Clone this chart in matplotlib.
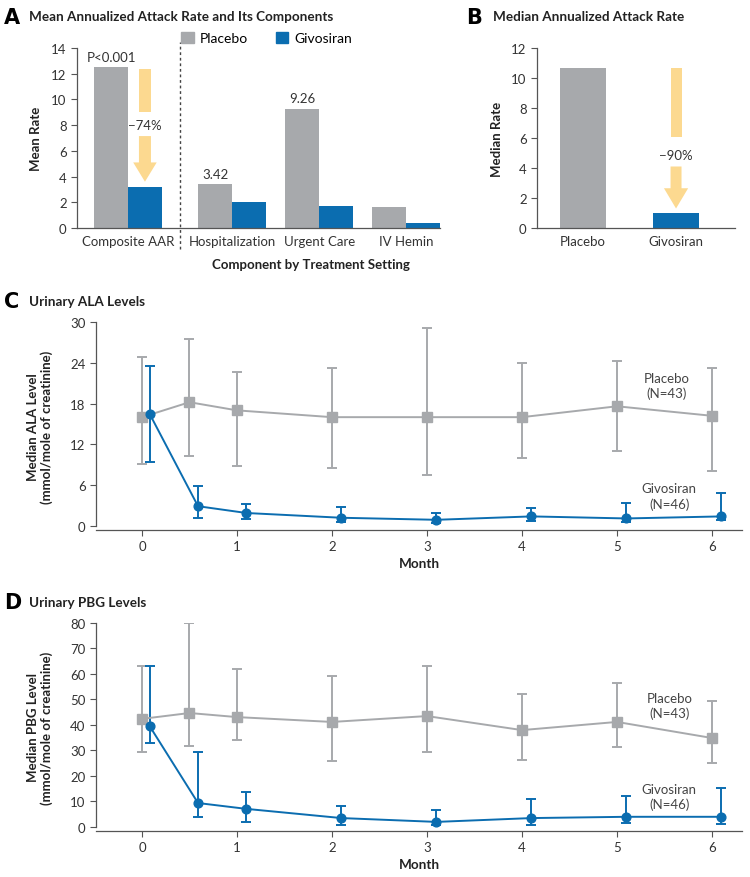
import numpy as np
import matplotlib.pyplot as plt
from matplotlib.patches import Rectangle, FancyArrow, Patch

plt.rcParams['font.family'] = ['Lato', 'DejaVu Sans']

GRAY = '#a7a9ac'
BLUE = '#0b6db0'
ARROW = '#fcd990'
TXT = '#333333'
SPINE = '#555555'

# panel A - mean annualized attack rate
components = ['Composite AAR', 'Hospitalization', 'Urgent Care', 'IV Hemin']
mean_placebo = [12.5, 3.42, 9.26, 1.6]
mean_givosiran = [3.2, 2.0, 1.7, 0.4]

# panel B - median annualized attack rate
groups_b = ['Placebo', 'Givosiran']
median_rate = [10.7, 1.0]

# panels C and D - visit times (months)
months_pla = [0, 0.5, 1, 2, 3, 4, 5, 6]
months_giv = [0.08, 0.59, 1.1, 2.1, 3.1, 4.1, 5.1, 6.1]

# urinary ALA
ala_pla = [16.0, 18.2, 17.0, 16.0, 16.0, 16.0, 17.6, 16.2]
ala_pla_hi = [24.8, 27.5, 22.6, 23.2, 29.1, 24.0, 24.3, 23.2]
ala_pla_lo = [9.1, 10.3, 8.8, 8.5, 7.5, 10.0, 11.0, 8.1]
ala_giv = [16.5, 2.9, 1.9, 1.2, 0.9, 1.4, 1.1, 1.4]
ala_giv_hi = [23.5, 5.8, 3.2, 2.8, 1.9, 2.6, 3.4, 4.8]
ala_giv_lo = [9.4, 1.2, 1.0, 0.6, 0.5, 0.7, 0.6, 0.8]

# urinary PBG
pbg_pla = [42.4, 44.7, 43.1, 41.2, 43.5, 38.0, 41.2, 34.9]
pbg_pla_hi = [63.2, 80.0, 62.0, 59.3, 63.2, 52.2, 56.5, 49.4]
pbg_pla_lo = [29.4, 31.8, 34.1, 25.9, 29.4, 26.3, 31.4, 25.1]
pbg_giv = [39.6, 9.4, 7.1, 3.5, 2.0, 3.5, 4.0, 4.0]
pbg_giv_hi = [63.2, 29.4, 13.7, 8.2, 6.7, 11.0, 12.2, 15.3]
pbg_giv_lo = [33.0, 3.9, 2.0, 0.8, 0.8, 0.8, 1.5, 1.2]

W, H = 750, 878
fig = plt.figure(figsize=(W / 100, H / 100), dpi=100)


def px_axes(x0, y0, x1, y1):
    return fig.add_axes([x0 / W, 1 - y1 / H, (x1 - x0) / W, (y1 - y0) / H])


def ftext(x, y, s, **kw):
    fig.text(x / W, 1 - y / H, s, **kw)


def style(ax):
    for s in ['top', 'right']:
        ax.spines[s].set_visible(False)
    for s in ['left', 'bottom']:
        ax.spines[s].set_color(SPINE)
        ax.spines[s].set_linewidth(0.9)
    ax.tick_params(direction='out', length=4, width=0.8, color=SPINE,
                   labelsize=9.5, labelcolor=TXT)


def down_arrow(ax, x, top, gap_top, gap_bot, tip, shaft_w, head_w, head_len):
    ax.add_patch(Rectangle((x - shaft_w / 2, gap_top), shaft_w, top - gap_top,
                           color=ARROW, lw=0))
    ax.add_patch(FancyArrow(x, gap_bot, 0, -(gap_bot - tip), width=shaft_w,
                            head_width=head_w, head_length=head_len,
                            length_includes_head=True, color=ARROW, lw=0))


# ---------- A ----------
axA = px_axes(77, 49, 440, 229)
style(axA)
pos = np.array([0, 1.2, 2.2, 3.2])
bw = 0.39
axA.bar(pos - bw / 2, mean_placebo, bw, color=GRAY, label='Placebo')
axA.bar(pos + bw / 2, mean_givosiran, bw, color=BLUE, label='Givosiran')
axA.set_xlim(-0.586, 3.586)
axA.set_ylim(0, 14)
axA.set_yticks(range(0, 15, 2))
axA.set_xticks(pos)
axA.set_xticklabels(components)
axA.tick_params(axis='x', length=0, pad=5)
axA.plot([0.6, 0.6], [-0.117, 1.035], ls=(0, (2, 2)), color='#444444', lw=1,
         transform=axA.get_xaxis_transform(), clip_on=False)
axA.text(-bw / 2, mean_placebo[0] + 0.35, 'P<0.001', ha='center', va='bottom',
         fontsize=9.5, color=TXT)
for i in [1, 2]:
    axA.text(pos[i] - bw / 2, mean_placebo[i] + 0.35, f'{mean_placebo[i]:.2f}',
             ha='center', va='bottom', fontsize=9.5, color=TXT)
down_arrow(axA, bw / 2, 12.4, 9.0, 7.15, 3.6, 0.138, 0.27, 1.5)
axA.text(bw / 2, 8.05, '\u221274%', ha='center', va='center', fontsize=9.5, color=TXT)
axA.legend(handles=[Patch(color=GRAY), Patch(color=BLUE)], labels=['Placebo', 'Givosiran'],
           ncol=2, loc='center left', bbox_to_anchor=(0.287, 1.056), frameon=False,
           handlelength=0.9, handleheight=0.9, handletextpad=0.45, columnspacing=2.0,
           fontsize=10, borderaxespad=0, borderpad=0)

ftext(4, 18, 'A', fontsize=15, fontweight='bold', family='DejaVu Sans', va='center')
ftext(29, 17, 'Mean Annualized Attack Rate and Its Components', fontsize=9.7,
      fontweight='bold', va='center', color='#222222')
ftext(36, 139, 'Mean Rate', rotation=90, fontsize=9.5, fontweight='bold',
      va='center', ha='center', color='#222222')
ftext(311, 265, 'Component by Treatment Setting', fontsize=9.5, fontweight='bold',
      va='center', ha='center', color='#222222')

# ---------- B ----------
axB = px_axes(537, 49, 735, 229)
style(axB)
axB.bar([0, 1], median_rate, 0.495, color=[GRAY, BLUE])
axB.set_xlim(-0.495, 1.634)
axB.set_ylim(0, 12)
axB.set_yticks(range(0, 13, 2))
axB.set_xticks([0, 1])
axB.set_xticklabels(groups_b)
axB.tick_params(axis='x', length=0, pad=5)
down_arrow(axB, 1.0, 10.7, 6.1, 4.1, 1.3, 0.118, 0.26, 1.35)
axB.text(1.0, 4.9, '\u221290%', ha='center', va='center', fontsize=9.5, color=TXT)

ftext(466, 18, 'B', fontsize=15, fontweight='bold', family='DejaVu Sans', va='center')
ftext(493, 17, 'Median Annualized Attack Rate', fontsize=9.7,
      fontweight='bold', va='center', color='#222222')
ftext(497, 139, 'Median Rate', rotation=90, fontsize=9.5, fontweight='bold',
      va='center', ha='center', color='#222222')


# ---------- C / D ----------
def line_panel(ax, pla, pla_lo, pla_hi, giv, giv_lo, giv_hi):
    style(ax)
    pla = np.array(pla)
    giv = np.array(giv)
    ax.errorbar(months_pla, pla, yerr=[pla - np.array(pla_lo), np.array(pla_hi) - pla],
                fmt='-s', color=GRAY, ms=6.8, lw=1.4, elinewidth=1.4,
                capsize=3.3, capthick=1.4)
    ax.errorbar(months_giv, giv, yerr=[giv - np.array(giv_lo), np.array(giv_hi) - giv],
                fmt='-o', color=BLUE, ms=6.3, lw=1.4, elinewidth=1.4,
                capsize=3.3, capthick=1.4)
    ax.set_xticks(range(0, 7))
    ax.set_xlim(-0.484, 6.316)


axC = px_axes(96, 323, 742, 531)
line_panel(axC, ala_pla, ala_pla_lo, ala_pla_hi, ala_giv, ala_giv_lo, ala_giv_hi)
axC.set_ylim(-0.6, 30)
axC.set_yticks(range(0, 31, 6))
axC.spines['left'].set_bounds(0, 30)
axC.text(5.52, 20.6, 'Placebo\n(N=43)', ha='center', va='center', fontsize=9.5,
         color='#444444', linespacing=1.25)
axC.text(5.55, 4.4, 'Givosiran\n(N=46)', ha='center', va='center', fontsize=9.5,
         color='#444444', linespacing=1.25)

axD = px_axes(96, 624, 742, 832)
line_panel(axD, pbg_pla, pbg_pla_lo, pbg_pla_hi, pbg_giv, pbg_giv_lo, pbg_giv_hi)
axD.set_ylim(-1.57, 80)
axD.set_yticks(range(0, 81, 10))
axD.spines['left'].set_bounds(0, 80)
axD.text(5.55, 47.5, 'Placebo\n(N=43)', ha='center', va='center', fontsize=9.5,
         color='#444444', linespacing=1.25)
axD.text(5.55, 12.0, 'Givosiran\n(N=46)', ha='center', va='center', fontsize=9.5,
         color='#444444', linespacing=1.25)

ftext(4, 302, 'C', fontsize=15, fontweight='bold', family='DejaVu Sans', va='center')
ftext(29, 302, 'Urinary ALA Levels', fontsize=9.7, fontweight='bold',
      va='center', color='#222222')
ftext(40, 427, 'Median ALA Level\n(mmol/mole of creatinine)', rotation=90,
      fontsize=9.5, fontweight='bold', va='center', ha='center', color='#222222',
      linespacing=1.1)
ftext(419, 564, 'Month', fontsize=9.7, fontweight='bold', ha='center', va='center',
      color='#222222')

ftext(4, 603, 'D', fontsize=15, fontweight='bold', family='DejaVu Sans', va='center')
ftext(29, 603, 'Urinary PBG Levels', fontsize=9.7, fontweight='bold',
      va='center', color='#222222')
ftext(40, 728, 'Median PBG Level\n(mmol/mole of creatinine)', rotation=90,
      fontsize=9.5, fontweight='bold', va='center', ha='center', color='#222222',
      linespacing=1.1)
ftext(419, 865, 'Month', fontsize=9.7, fontweight='bold', ha='center', va='center',
      color='#222222')

fig.savefig('out.png', dpi=100)
